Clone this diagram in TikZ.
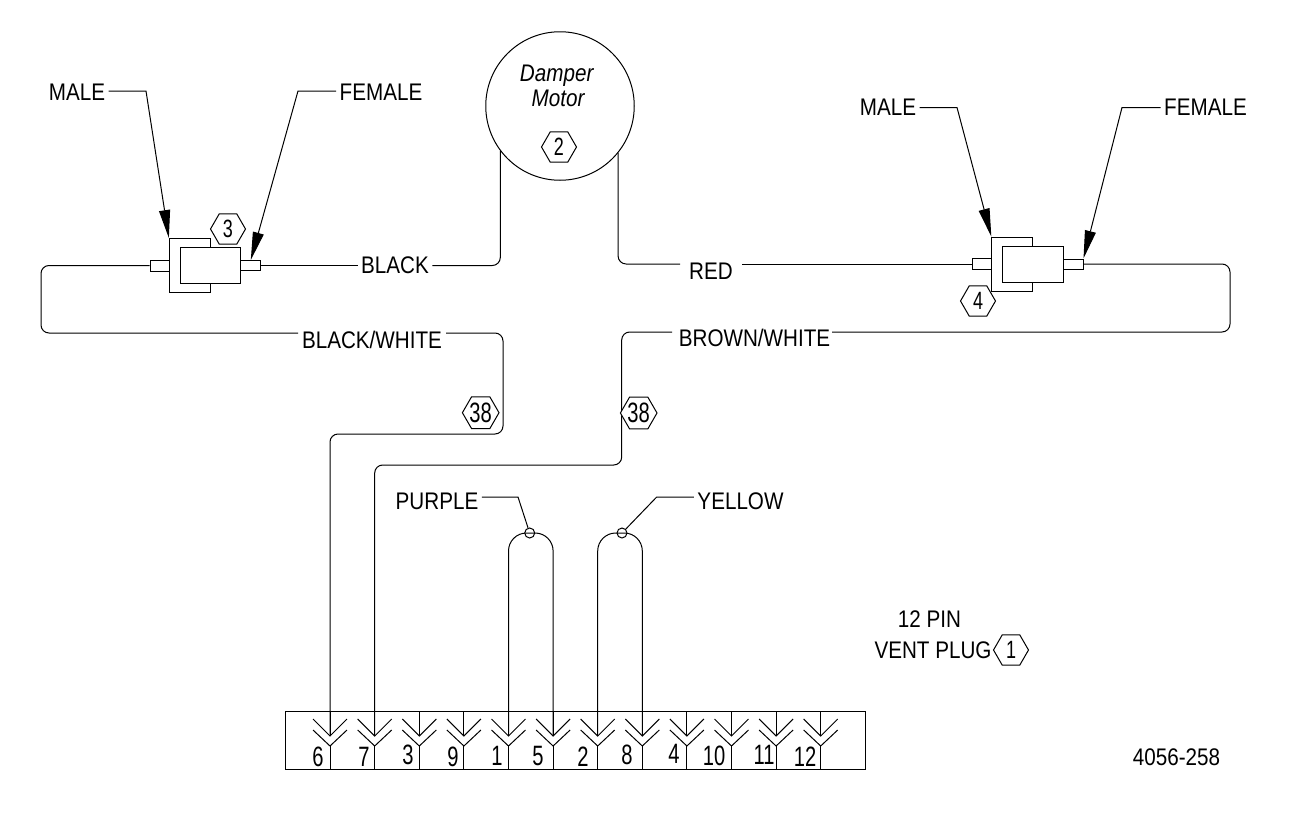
\documentclass[tikz,border=0pt]{standalone}
\usepackage{fontspec}
\setmainfont[FakeStretch=0.86]{Liberation Sans}
\newfontfamily\digitfont[FakeStretch=0.72]{Liberation Sans}
\usetikzlibrary{shapes,arrows,arrows.meta}
\tikzstyle{r} = [rectangle, inner sep=0pt, draw=black, fill=white]
\tikzstyle{t} = [inner sep=3pt, font=\fontsize{24}{26}\selectfont]
\tikzstyle{d} = [inner sep=0pt, font=\fontsize{28}{30}\digitfont]
\tikzstyle{hex} = [regular polygon, regular polygon sides=6, minimum size=35pt, inner sep=0pt, draw=black, fill=white, font=\fontsize{25}{27}\digitfont]
\tikzstyle{wire} = [rounded corners=8pt]
\tikzstyle{lead} = [-{Triangle[length=28pt,width=11pt]}]

\begin{document}
\begin{tikzpicture}[x=1pt,y=-1pt,line width=1pt]
		\useasboundingbox (0,0) rectangle (1294,817);

		\node[circle,draw=black,minimum size=148.5pt,inner sep=0pt](motor) at (560,106){};
		\node[t,font=\fontsize{24}{26}\selectfont\itshape](damper) at (556.7,76){Damper};
		\node[t,font=\fontsize{24}{26}\selectfont\itshape](mot) at (558,98.5){Motor};
		\node[hex](hextwo) at (559,147){2};

		\node[r,minimum width=40.7pt,minimum height=54pt](male3) at (189.7,265.5){};
		\node[r,minimum width=60.7pt,minimum height=36pt](fem3) at (210.4,265.5){};
		\node[r,minimum width=19pt,minimum height=11pt,left of=male3,node distance=30pt](pinl3){};
		\node[r,minimum width=20pt,minimum height=10pt,right of=fem3,node distance=40.4pt](pinr3){};
		\node[hex](hexthree) at (228,229){3};

		\node[r,minimum width=41pt,minimum height=54pt](male4) at (1012.3,264){};
		\node[r,minimum width=60.6pt,minimum height=36pt](fem4) at (1033,264){};
		\node[r,minimum width=19pt,minimum height=11pt,left of=male4,node distance=30pt](pinl4){};
		\node[r,minimum width=20pt,minimum height=10pt,right of=fem4,node distance=40pt](pinr4){};
		\node[hex](hexfour) at (978,301){4};

		\node[t](malel) at (77,92){MALE};
		\node[t](femalel) at (381,92){FEMALE};
		\node[t](maler) at (888,107.5){MALE};
		\node[t](femaler) at (1205.5,107.5){FEMALE};
		\node[t](black) at (395,265.5){BLACK};
		\node[t](red) at (711,271){RED};
		\node[t](blackwhite) at (372,340){BLACK/WHITE};
		\node[t](brownwhite) at (754.5,338){BROWN/WHITE};
		\node[t](purple) at (437,501){PURPLE};
		\node[t](yellow) at (740.5,501){YELLOW};
		\node[t](pins) at (929.5,619){12 PIN};
		\node[t](vent) at (933,650){VENT PLUG};
		\node[hex](hexone) at (1011,650){1};
		\node[t](drawing) at (1176.5,757){4056-258};

		\node[r,fill=none,minimum width=580pt,minimum height=57.6pt](plug) at (575,740.5){};
		\foreach \n/\x/\tx/\ty in {6/330/318/757,7/374.7/364/757,3/419.3/408/755,9/463.9/453/757,
				1/508.5/497/756,5/553.1/538/756,2/597.7/583/757,8/642.3/627/755,
				4/686.9/674/754,10/731.5/714/756,11/776.1/764/755,12/820.7/805/757}{
			\coordinate (pin\n) at (\x,736);
			\coordinate (low\n) at (\x,746);
			\draw (pin\n |- plug.north) -- (pin\n);
			\draw (low\n) -- (low\n |- plug.south);
			\draw ([shift={(-17,-17)}]pin\n) -- (pin\n) -- ([shift={(17,-17)}]pin\n);
			\draw ([shift={(-17,-16)}]low\n) -- (low\n) -- ([shift={(17,-16)}]low\n);
			\node[d](num\n) at (\tx,\ty){\n};
		}

		\coordinate (bwleft) at (298,333);
		\coordinate (bwright) at (446,333);
		\coordinate (brleft) at (672,332);
		\coordinate (brright) at (832,332);
		\coordinate (redleft) at (680,264);
		\coordinate (redright) at (742,264);
		\coordinate (bendbw) at (503,434);
		\coordinate (bendbr) at (621.7,465);

		\draw[wire](pinr3)--(black);
		\draw[wire](black)-|(motor.217.7);
		\draw[wire](motor.321.6)|-(redleft);
		\draw(redright)--(pinl4);
		\draw[wire](pinl3.west)-|(41,333)--(bwleft);
		\draw[wire](bwright)-|(bendbw)-|(pin6);
		\draw[wire](pinr4.east)-|(1230,332)--(brright);
		\draw[wire](brleft)-|(bendbr)-|(pin7);

		\node[circle,draw=black,minimum size=10pt,inner sep=0pt](dotp) at (529.7,533){};
		\node[circle,draw=black,minimum size=10pt,inner sep=0pt](doty) at (622,533){};
		\draw[rounded corners=18pt](pin1)--(pin1 |- dotp)--(pin5 |- dotp)--(pin5);
		\draw[rounded corners=18pt](pin2)--(pin2 |- doty)--(pin8 |- doty)--(pin8);

		\coordinate (bendma) at (146,91);
		\coordinate (bendfe) at (298,91);
		\coordinate (bendmr) at (957,107.5);
		\coordinate (bendfr) at (1122,107.5);
		\coordinate (bendpu) at (518,497);
		\coordinate (bendye) at (656.7,497);

		\draw[lead](malel.east |- bendma)--(bendma)--(male3.north west);
		\draw[lead](femalel.west |- bendfe)--(bendfe)--(pinr3.north);
		\draw[lead](maler.east |- bendmr)--(bendmr)--(male4.north west);
		\draw[lead](femaler.west |- bendfr)--(bendfr)--(pinr4.north east);
		\draw(purple.east |- bendpu)--(bendpu)--(dotp);
		\draw(yellow.west |- bendye)--(bendye)--(doty);

		\node[hex,font=\fontsize{28}{30}\digitfont](hexbw) at (480.7,412.7){38};
		\node[hex,font=\fontsize{28}{30}\digitfont](hexbr) at (638.7,413){38};
	\end{tikzpicture}
\end{document}
